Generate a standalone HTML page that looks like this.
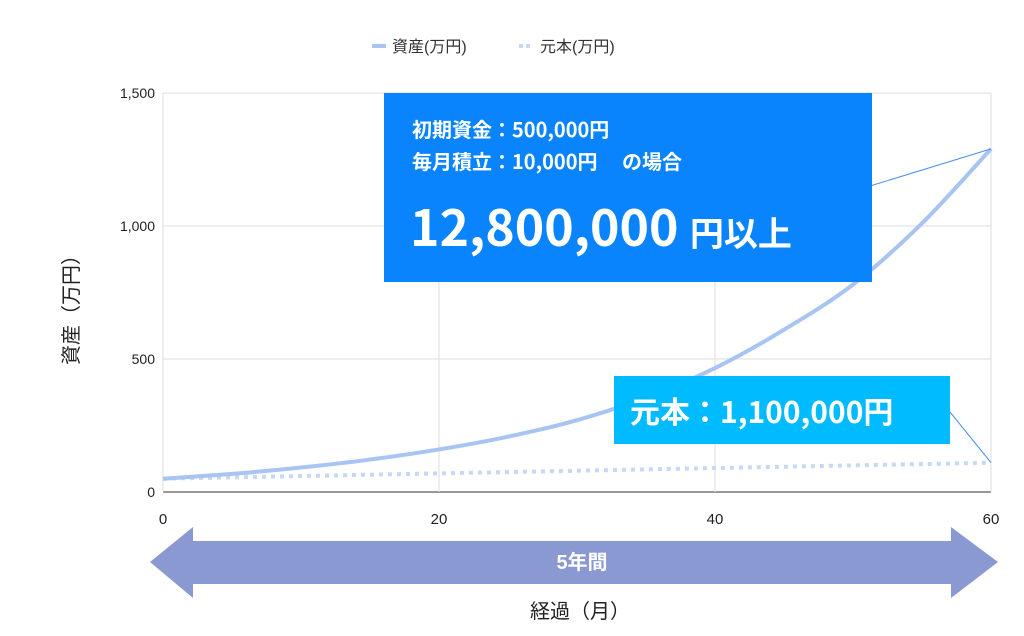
<!DOCTYPE html>
<html><head><meta charset="utf-8">
<style>
body{margin:0;background:#fff;font-family:"Liberation Sans","Noto Sans CJK JP",sans-serif;}
#wrap{position:relative;width:1024px;height:636px;overflow:hidden;background:#fff;}
.box{position:absolute;color:#fff;font-family:"Noto Sans CJK JP","Liberation Sans",sans-serif;font-weight:bold;}
</style></head><body>
<div id="wrap">
<svg id="chart" width="1024" height="636" style="position:absolute;left:0;top:0"></svg>
<div class="box" style="left:384px;top:93px;width:488px;height:189px;background:#0a84fc;">
  <div style="position:absolute;left:28px;top:20px;font-size:20px;line-height:32px;">初期資金：500,000円<br>毎月積立：10,000円　 の場合</div>
  <div style="position:absolute;left:26px;top:102px;font-size:50px;line-height:60px;white-space:nowrap;">12,800,000 <span style="font-size:34px">円以上</span></div>
</div>
<div class="box" style="left:614px;top:376px;width:336px;height:68px;background:#00bbff;font-size:30px;line-height:68px;padding-left:16px;box-sizing:border-box;white-space:nowrap;">元本：1,100,000円</div>
</div>
<script>
const months=[0,5,10,15,20,25,30,35,40,45,50,55,60];
const assets=[50,68,92,122,160,208,270,355,466,610,780,1010,1290];
const principal=[50,55,60,65,70,75,80,85,90,95,100,105,110];
const xTicks=[0,20,40,60];
const yTicks=[0,500,1000,1500];
const yTickLabels=["0","500","1,000","1,500"];
const NS="http://www.w3.org/2000/svg";
const svg=document.getElementById('chart');
const X0=163,X1=991,Y0=492,Y1=93;
const xs=v=>X0+(v-60*0)/60*(X1-X0);
const ys=v=>Y0-v/1500*(Y0-Y1);
function mk(t,a,p){const e=document.createElementNS(NS,t);for(const k in a)e.setAttribute(k,a[k]);(p||svg).appendChild(e);return e;}
function txt(x,y,s,size,anchor,extra){const e=mk('text',Object.assign({x:x,y:y,'font-size':size,'text-anchor':anchor,fill:'#222','font-family':'"Liberation Sans","Noto Sans CJK JP",sans-serif'},extra||{}));e.textContent=s;return e;}
yTicks.forEach((v,i)=>{
  const l=mk('line',{x1:X0,x2:X1,y1:ys(v),y2:ys(v),stroke:v===0?'#333':'#ddd','stroke-width':1});
  
  
  const t=txt(X0-8,ys(v)+5,yTickLabels[i],14,'end');
  
  
});
xTicks.forEach(v=>{
  const l=mk('line',{x1:xs(v),x2:xs(v),y1:Y1,y2:Y0,stroke:'#ddd','stroke-width':1});
  
  
  const t=txt(xs(v),524,String(v),15,'middle');
  
  
});
function smooth(xv,yv){
  const P=xv.map((m,i)=>[xs(m),ys(yv[i])]);let d='M'+P[0][0]+','+P[0][1];
  for(let i=0;i<P.length-1;i++){const p0=P[i-1]||P[i],p1=P[i],p2=P[i+1],p3=P[i+2]||P[i+1];
    d+=' C'+(p1[0]+(p2[0]-p0[0])/6)+','+(p1[1]+(p2[1]-p0[1])/6)+' '+(p2[0]-(p3[0]-p1[0])/6)+','+(p2[1]-(p3[1]-p1[1])/6)+' '+p2[0]+','+p2[1];}
  return d;}
const pl=mk('path',{d:smooth(months,principal),fill:'none',stroke:'#c6d8f3','stroke-width':4,'stroke-dasharray':'4 5'});


const al=mk('path',{d:smooth(months,assets),fill:'none',stroke:'#a7c4f2','stroke-width':4});


const n=months.length-1;
const c1=mk('line',{x1:870,y1:186,x2:xs(months[n]),y2:ys(assets[n]),stroke:'#4a8ef0','stroke-width':1});


const c2=mk('line',{x1:950,y1:412,x2:xs(months[n]),y2:ys(principal[n]),stroke:'#4a8ef0','stroke-width':1});


// legend
const lg1=mk('line',{x1:372,x2:386,y1:46,y2:46,stroke:'#a7c4f2','stroke-width':4});


const lt1=txt(392,52,'資産(万円)',16,'start',{fill:'#333'});


const lg2=mk('line',{x1:519,x2:533,y1:46,y2:46,stroke:'#c6d8f3','stroke-width':4,'stroke-dasharray':'4 3'});


const lt2=txt(540,52,'元本(万円)',16,'start',{fill:'#333'});


// y title
const yt=txt(0,0,'資産（万円）',20,'middle',{transform:'translate(78,305) rotate(-90)'});


// arrow
const ar=mk('polygon',{points:'150,562 193,527 193,541 951,541 951,527 998,562 951,598 951,584 193,584 193,598',fill:'#8b99d3'});


const at=txt(582,569,'5年間',20,'middle',{fill:'#fff','font-weight':'bold'});


const xt=txt(580,618,'経過（月）',20,'middle');


</script>
</body></html>
